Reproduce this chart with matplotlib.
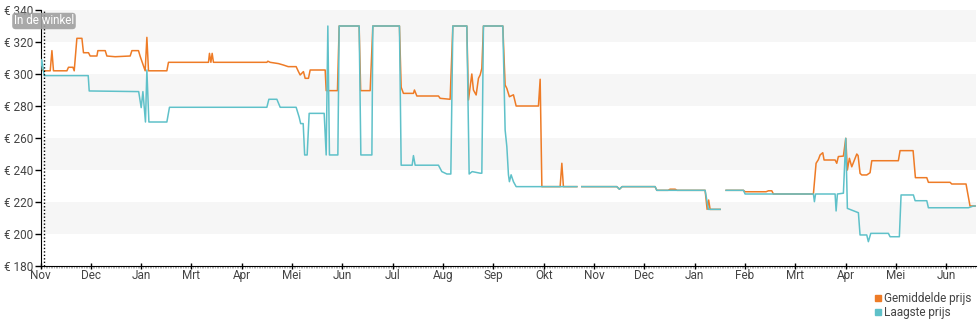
import numpy as np
import matplotlib.pyplot as plt
from matplotlib.lines import Line2D

plt.rcParams['font.family'] = ['Roboto', 'DejaVu Sans']

# Maandlabels (een tick per maand, x = maandindex vanaf november)
maanden = ['Nov', 'Dec', 'Jan', 'Mrt', 'Apr', 'Mei', 'Jun', 'Jul', 'Aug', 'Sep',
           'Okt', 'Nov', 'Dec', 'Jan', 'Feb', 'Mrt', 'Apr', 'Mei', 'Jun']

# Laagste prijs (x in maanden, prijs in euro; nan = geen data)
laagste_x = [0.004, 0.024, 0.074, 0.948, 0.968, 1.951, 2.001, 2.035, 2.086, 2.114,
             2.154, 2.511, 2.563, 4.498, 4.538, 4.697, 4.763, 5.080, 5.140, 5.170,
             5.220, 5.249, 5.299, 5.339, 5.637, 5.677, 5.710, 5.742, 5.909, 5.935,
             6.332, 6.366, 6.585, 6.604, 7.133, 7.167, 7.385, 7.411, 7.445, 7.908,
             7.975, 8.075, 8.154, 8.194, 8.472, 8.518, 8.578, 8.737, 8.770, 8.802,
             9.187, 9.233, 9.267, 9.299, 9.318, 9.352, 9.398, 9.452, 10.658, 10.700,
             10.757, 11.452, 11.504, 11.558, 12.213, 12.247, 13.207, 13.272, 13.505, 13.560,
             13.624, 13.968, 14.002, 15.359, 15.379, 15.402, 15.790, 15.810, 15.836, 15.955,
             16.002, 16.034, 16.253, 16.286, 16.419, 16.451, 16.499, 16.849, 16.883, 17.067,
             17.101, 17.346, 17.380, 17.612, 17.644, 18.439, 18.538, 18.572]
laagste_prijs = [303, 309, 299, 299, 289.4, 289, 279, 289, 270, 302.5,
                 270, 270, 279.2, 279.2, 284.2, 284.2, 279.2, 279.2, 273, 269,
                 269, 249.4, 249.4, 275.4, 275.4, 249.4, 330, 249.4, 249.4, 330,
                 330, 249.4, 249.4, 330, 330, 243, 243, 249, 243, 243,
                 239, 237.5, 237.5, 330, 330, 237.5, 239, 238, 238, 330,
                 330, 265, 254.6, 237, 232.7, 237, 232.7, 229.6, 229.6, np.nan,
                 229.6, 229.6, 228, 229.6, 229.6, 227.3, 227.3, 215.4, 215.4, np.nan,
                 227.3, 227.3, 225, 225, 220.2, 225, 225, 214.4, 225, 225.5,
                 259.8, 216, 213.3, 199.4, 199.4, 195.2, 200.4, 200.4, 198.3, 198.3,
                 224.4, 224.4, 220.8, 220.8, 216.4, 216.4, 217.5, 217.5]

# Gemiddelde prijs
gem_x = [0.008, 0.060, 0.193, 0.227, 0.258, 0.525, 0.556, 0.644, 0.670, 0.723,
         0.823, 0.854, 0.954, 0.987, 1.121, 1.140, 1.286, 1.319, 1.484, 1.782,
         1.816, 1.947, 1.981, 2.080, 2.114, 2.146, 2.511, 2.543, 3.338, 3.358,
         3.386, 3.411, 3.437, 4.498, 4.518, 4.564, 4.729, 4.828, 4.922, 5.080,
         5.126, 5.160, 5.225, 5.259, 5.325, 5.359, 5.657, 5.677, 5.901, 5.935,
         6.332, 6.362, 6.551, 6.604, 7.133, 7.167, 7.212, 7.411, 7.431, 7.479,
         7.908, 7.942, 8.140, 8.194, 8.472, 8.504, 8.571, 8.603, 8.657, 8.703,
         8.737, 8.770, 8.802, 9.187, 9.233, 9.267, 9.318, 9.398, 9.452, 9.895,
         9.929, 9.963, 10.326, 10.360, 10.391, 10.658, 10.700, 10.757, 11.452, 11.504,
         11.558, 12.213, 12.247, 12.472, 12.511, 12.611, 12.651, 13.207, 13.247, 13.277,
         13.306, 13.505, 13.560, 13.624, 13.968, 14.002, 14.419, 14.465, 14.532, 14.564,
         15.359, 15.412, 15.458, 15.492, 15.545, 15.571, 15.790, 15.823, 15.855, 15.955,
         16.002, 16.034, 16.074, 16.121, 16.221, 16.247, 16.286, 16.320, 16.419, 16.485,
         16.519, 17.047, 17.081, 17.340, 17.386, 17.612, 17.644, 18.075, 18.108, 18.392,
         18.471, 18.572]
gem_prijs = [303.5, 302, 302, 314.6, 302, 302, 304.2, 304.2, 302, 322.3,
             322.3, 313.3, 313.3, 311.25, 311.25, 314.6, 314.6, 311.25, 310.8, 311.25,
             314.6, 314.6, 311, 302, 322.9, 302, 302, 307.3, 307.3, 312.9,
             307.3, 312.9, 307.3, 307.3, 308, 307.3, 306.5, 305.6, 304.6, 304.6,
             301.5, 299.4, 301.5, 297.3, 297.3, 302.5, 302.5, 289.6, 289.6, 330,
             330, 289.6, 289.6, 330, 330, 291.7, 287.9, 287.9, 290, 286.25,
             286.25, 284.8, 284.2, 330, 330, 283.75, 300, 290, 286.9, 297.3,
             299.4, 303.5, 330, 330, 293.1, 291, 285.8, 287, 280, 280,
             296.7, 229.6, 229.6, 244.2, 229.6, 229.6, np.nan, 229.6, 229.6, 228,
             229.6, 229.6, 227.3, 227.3, 228, 228, 227.3, 227.3, 215.4, 221.25,
             215.4, 215.4, np.nan, 227.3, 227.3, 226.4, 226.4, 227, 227, 225,
             225, 244.2, 246.5, 249.4, 250.8, 246.25, 246.25, 244.2, 248.4, 248.7,
             259.8, 240, 247.3, 242, 250, 249, 237.9, 236.9, 236.9, 238.3,
             245.8, 245.8, 252.1, 252.1, 235.2, 235.2, 232.3, 232.3, 231.25, 231.25,
             217.5, 217.5]

oranje = '#ee7b26'
blauw = '#5fc1c9'
tekst = '#444444'

fig = plt.figure(figsize=(9.8, 3.25), dpi=100)
ax = fig.add_axes([40.5 / 980, 59 / 325, 935.5 / 980, 256 / 325])

# grijze banden op de achtergrond
for onder in range(200, 340, 40):
    ax.axhspan(onder, onder + 20, color='#f6f6f6', lw=0, zorder=0)

ax.plot(gem_x, gem_prijs, color=oranje, lw=1.1, zorder=2)
ax.plot(laagste_x, laagste_prijs, color=blauw, lw=1.1, zorder=3)

# stippellijn "In de winkel"
ax.axvline(0.064, color='black', ls=(0, (1, 1.5)), lw=1, zorder=4)
fig.text(44 / 980, 1 - 21 / 325, 'In de winkel', color='white', fontsize=8.3,
         ha='center', va='center',
         bbox=dict(boxstyle='round,pad=0.15,rounding_size=0.3', fc='#a0a0a0',
                   ec='none', alpha=0.9), zorder=5)

ax.set_xlim(0, 18.59)
ax.set_ylim(180, 340)

ax.set_yticks(range(180, 341, 20))
ax.set_yticklabels(['€ %d' % v for v in range(180, 341, 20)])
ax.set_xticks(range(len(maanden)))
ax.set_xticklabels(maanden)
ax.set_xticks(np.arange(0, 18.59, 1 / 30), minor=True)

ax.tick_params(axis='y', direction='out', length=4, width=1, colors='black',
               labelcolor=tekst, labelsize=8.5, pad=1)
ax.tick_params(axis='x', which='major', direction='inout', length=5, width=1,
               colors='black', labelcolor=tekst, labelsize=8.5, pad=0)
ax.tick_params(axis='x', which='minor', direction='out', length=1.5, width=0.5,
               colors='#999999')

for kant in ['top', 'right']:
    ax.spines[kant].set_visible(False)
ax.spines['left'].set_color('black')
ax.spines['bottom'].set_color('black')

handles = [Line2D([], [], color=oranje, marker='s', ls='none', markersize=5),
           Line2D([], [], color=blauw, marker='s', ls='none', markersize=5)]
fig.legend(handles, ['Gemiddelde prijs', 'Laagste prijs'], loc='lower right',
           bbox_to_anchor=(0.998, -0.003), frameon=False, fontsize=8.5,
           handlelength=0.6, handletextpad=0.2, labelspacing=0.1,
           borderpad=0.1, labelcolor=tekst)

fig.savefig('out.png', dpi=100)
